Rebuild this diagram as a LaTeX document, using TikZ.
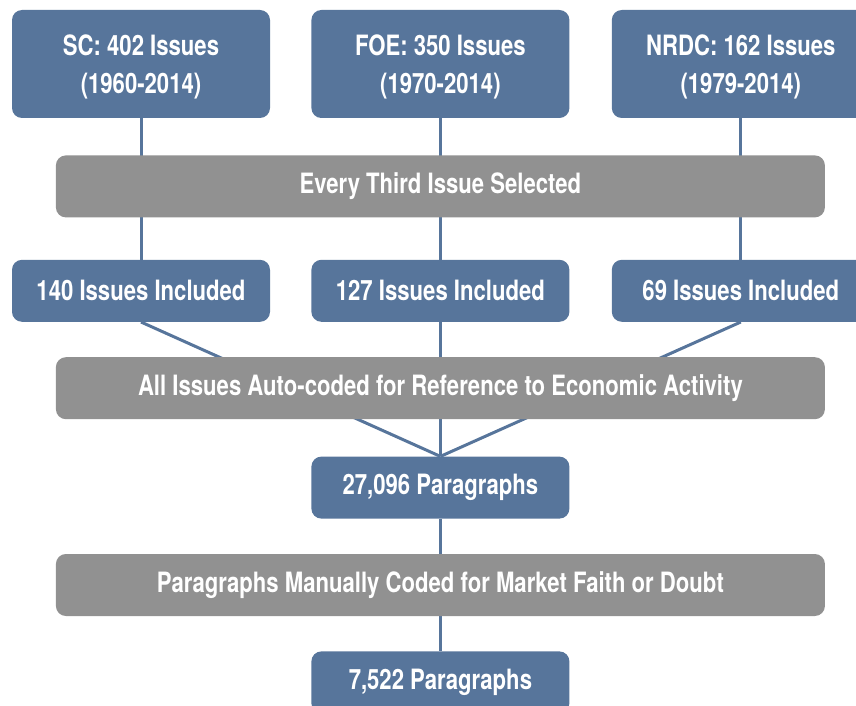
\documentclass[tikz,border=0pt]{standalone}
\usepackage{fontspec}
\newfontfamily\flowfont{TeX Gyre Heros}[FakeStretch=0.79]
\usetikzlibrary{positioning,backgrounds}
\definecolor{flowblue}{RGB}{87,117,155}
\definecolor{flowgray}{RGB}{145,145,145}
\tikzset{
    countbox/.style={fill=flowblue, rounded corners=10pt, align=center, text=white, inner sep=0pt,
        font=\flowfont\bfseries\fontsize{28}{38}\selectfont, minimum width=258pt, minimum height=62pt},
    sourcebox/.style={countbox, minimum height=108pt, text depth=-2pt},
    stepbox/.style={countbox, fill=flowgray, minimum width=769pt},
    flowline/.style={draw=flowblue, line width=3pt}
}

\begin{document}
\begin{tikzpicture}[x=1pt, y=1pt]
    \useasboundingbox (0,0) rectangle (856,-706);
    \node[sourcebox] (sc) at (141,-64) {SC: 402 Issues\\(1960-2014)};
    \node[sourcebox, right=41pt of sc] (foe) {FOE: 350 Issues\\(1970-2014)};
    \node[sourcebox, right=42pt of foe] (nrdc) {NRDC: 162 Issues\\(1979-2014)};
    \node[stepbox, below=37pt of foe] (third) {Every Third Issue Selected};
    \node[countbox, below=42pt of third] (foeinc) {127 Issues Included};
    \node[countbox, left=41pt of foeinc] (scinc) {140 Issues Included};
    \node[countbox, right=42pt of foeinc] (nrdcinc) {69 Issues Included};
    \node[stepbox, below=35pt of foeinc] (autocode) {All Issues Auto-coded for Reference to Economic Activity};
    \node[countbox, below=37pt of autocode] (allpara) {27,096 Paragraphs};
    \node[stepbox, below=35pt of allpara] (manual) {Paragraphs Manually Coded for Market Faith or Doubt};
    \node[countbox, below=35pt of manual] (finalpara) {7,522 Paragraphs};

    % connectors run behind the boxes
    \begin{scope}[on background layer]
        \draw[flowline] (sc.south) -- (scinc.north);
        \draw[flowline] (foe.south) -- (foeinc.north);
        \draw[flowline] (nrdc.south) -- (nrdcinc.north);
        \draw[flowline] (scinc.south) -- (allpara.north);
        \draw[flowline] (foeinc.south) -- (allpara.north);
        \draw[flowline] (nrdcinc.south) -- (allpara.north);
        \draw[flowline] (allpara.south) -- (finalpara.north);
    \end{scope}
\end{tikzpicture}
\end{document}
